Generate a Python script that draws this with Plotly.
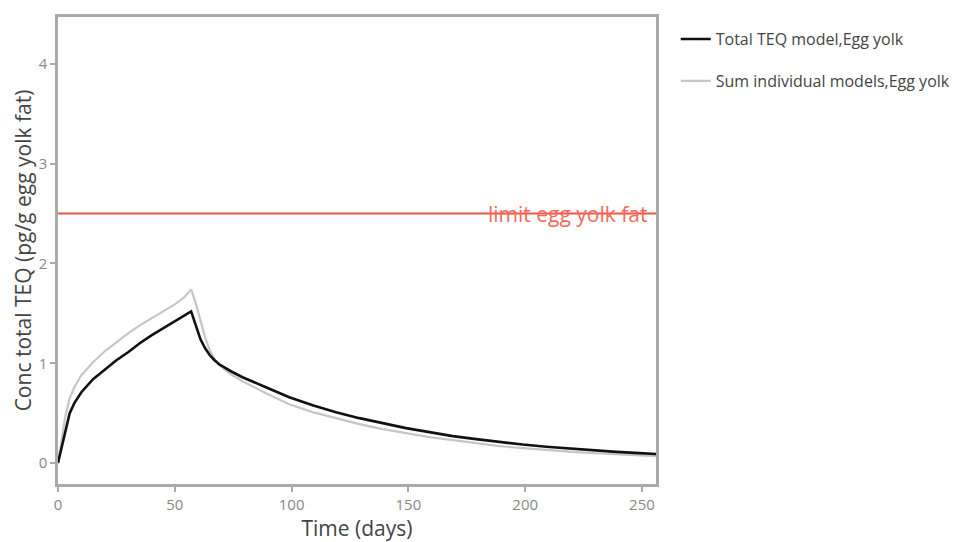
import plotly.graph_objects as go

days = [0, 1, 2, 3, 5, 7, 10, 15, 20, 25, 30, 35, 40, 45, 50, 54, 57, 59, 61, 63, 65, 67, 69, 74, 79, 89,
        99, 109, 119, 129, 139, 149, 159, 169, 179, 189, 199, 209, 219, 229, 239, 249, 256]

total_teq = [0, 0.1, 0.21, 0.32, 0.5, 0.6, 0.71, 0.84, 0.94, 1.03, 1.11, 1.2, 1.28, 1.35, 1.42, 1.47, 1.52,
             1.38, 1.24, 1.15, 1.08, 1.03, 0.99, 0.92, 0.86, 0.76,
             0.66, 0.58, 0.51, 0.45, 0.40, 0.35, 0.31, 0.27, 0.24, 0.21, 0.185, 0.163, 0.144, 0.127, 0.112, 0.099, 0.09]

sum_individual = [0, 0.15, 0.3, 0.45, 0.65, 0.76, 0.88, 1.01, 1.12, 1.21, 1.3, 1.38, 1.45, 1.52, 1.59, 1.66, 1.74,
                  1.60, 1.42, 1.26, 1.13, 1.04, 0.98, 0.89, 0.82, 0.70,
                  0.59, 0.51, 0.45, 0.39, 0.34, 0.30, 0.26, 0.23, 0.20, 0.17, 0.15, 0.13, 0.115, 0.10, 0.088, 0.077, 0.07]

limit_value = 2.5
limit_label = "limit egg yolk fat"
series_names = ["Total TEQ model,Egg yolk", "Sum individual models,Egg yolk"]

FONT = "Open Sans"
GRID = "#aaaaaa"

fig = go.Figure()
fig.add_trace(go.Scatter(x=days, y=sum_individual, mode="lines", name=series_names[1],
                         line=dict(color="#c6c6c6", width=2.2),
                         legendgroup="b", legendrank=2))
fig.add_trace(go.Scatter(x=days, y=total_teq, mode="lines", name=series_names[0],
                         line=dict(color="#111111", width=2.6),
                         legendgroup="a", legendrank=1))

fig.add_shape(type="line", xref="paper", x0=0, x1=1, yref="y", y0=limit_value, y1=limit_value,
              line=dict(color="#ee5544", width=2))
fig.add_annotation(xref="paper", x=1, xanchor="right", xshift=-6, yref="y", y=limit_value,
                   yanchor="middle", yshift=0, text=limit_label, showarrow=False,
                   font=dict(family=FONT, size=21, color="#f26a5a"))

axis_common = dict(showline=True, linecolor=GRID, linewidth=2.5, mirror=True, showgrid=False, zeroline=False,
                   ticks="outside", ticklen=5, tickcolor=GRID, tickwidth=1.5,
                   tickfont=dict(family=FONT, size=15, color="#888888"))

fig.update_layout(
    width=973, height=542,
    margin=dict(l=50, r=325, t=6, b=66),
    paper_bgcolor="white", plot_bgcolor="white",
    font=dict(family=FONT, color="#444444"),
    xaxis=dict(range=[0, 256], tickvals=[0, 50, 100, 150, 200, 250],
               title=dict(text="Time (days)", font=dict(family=FONT, size=21, color="#444444"), standoff=8),
               **axis_common),
    yaxis=dict(range=[-0.21, 4.47], tickvals=[0, 1, 2, 3, 4],
               title=dict(text="Conc total TEQ (pg/g egg yolk fat)", font=dict(family=FONT, size=21, color="#444444"), standoff=2),
               **axis_common),
    legend=dict(x=1.033, y=0.989, xanchor="left", yanchor="top", traceorder="grouped", tracegroupgap=18,
                font=dict(family=FONT, size=16, color="#444444"), bgcolor="rgba(0,0,0,0)"),
    showlegend=True,
)

fig.write_html("out.html")
